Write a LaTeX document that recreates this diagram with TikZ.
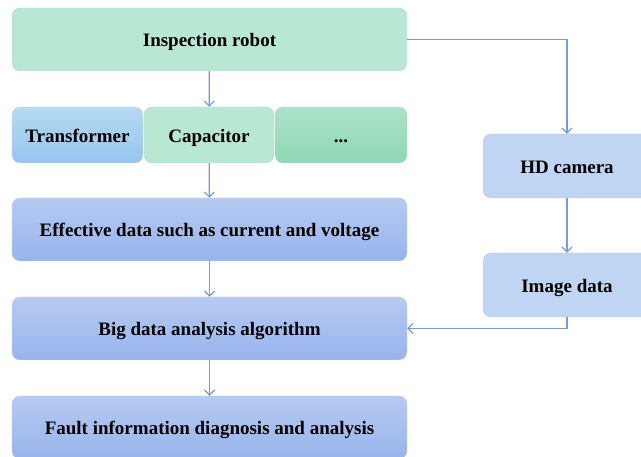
\documentclass[tikz,border=0pt]{standalone}
\usepackage{fontspec}
\setmainfont{Liberation Serif}
\usetikzlibrary{arrows.meta}
\definecolor{mint}{HTML}{B8E8D4}
\definecolor{minttop}{HTML}{ACE2CA}
\definecolor{mintbot}{HTML}{8ED8B4}
\definecolor{skytop}{HTML}{B6DAF2}
\definecolor{skybot}{HTML}{96C6EE}
\definecolor{bluetop}{HTML}{B6CAF2}
\definecolor{bluebot}{HTML}{98B4EC}
\definecolor{paleblue}{HTML}{C0D4F4}
\definecolor{linkblue}{HTML}{7A9AD8}
\begin{document}
\begin{tikzpicture}[x=1pt, y=-1pt]
    \tikzset{box/.style={draw=gray!35, rounded corners=8pt, align=center, font=\fontsize{19}{21}\selectfont\bfseries, text height=16pt, text depth=1pt, minimum height=63pt, inner sep=2pt}}
    \tikzset{mintbox/.style={box, fill=mint}}
    \tikzset{bluebox/.style={box, top color=bluetop, bottom color=bluebot, minimum width=395pt}}
    \tikzset{sidebox/.style={box, fill=paleblue, minimum width=168pt, minimum height=64pt}}
    \tikzset{link/.style={draw=linkblue, line width=1.2pt, -{Straight Barb[length=5pt, width=10pt]}}}

    \useasboundingbox (0,0) rectangle (641,457);
    \clip (0,0) rectangle (641,457);

    \node[mintbox, minimum width=395pt] (Robot) at (209.5,39.5) {Inspection robot};
    \node[box, top color=skytop, bottom color=skybot, minimum width=131pt, minimum height=56pt] (Transformer) at (77.5,135) {Transformer};
    \node[mintbox, minimum width=130pt, minimum height=56pt] (Capacitor) at (209,135) {Capacitor};
    \node[box, top color=minttop, bottom color=mintbot, minimum width=132pt, minimum height=56pt] (Other) at (341,135) {...};
        \node[bluebox] (Effective) at (209.5,229.5) {Effective data such as current and voltage};
        \node[bluebox] (BigData) at (209.5,328.5) {Big data analysis algorithm};
        \node[bluebox] (Fault) at (209.5,427.5) {Fault information diagnosis and analysis};
    \node[sidebox] (Camera) at (567,166) {HD camera};
    \node[sidebox] (Image) at (567,285) {Image data};

    \foreach \i/\j in {Robot/Capacitor,Capacitor/Effective,Effective/BigData,BigData/Fault,Camera/Image}{
        \draw[link] (\i) -- (\j);
    }
    \draw[link] (Robot.east) -| (Camera.north);
    \draw[link] (Image.south) |- (BigData.east);
\end{tikzpicture}
\end{document}
